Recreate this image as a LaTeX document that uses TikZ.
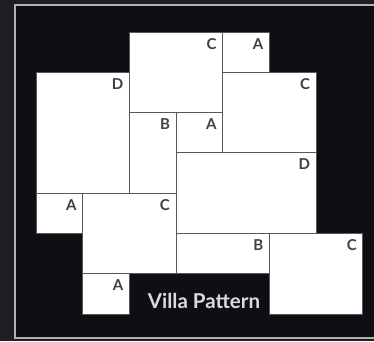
\documentclass[tikz,border=0pt]{standalone}
\usepackage{fontspec}
\setmainfont{Lato}
\definecolor{outerbg}{HTML}{1E1D1F}
\definecolor{innerbg}{HTML}{110E13}
\definecolor{frameline}{HTML}{B4AEBB}
\definecolor{tileline}{HTML}{5A5660}
\definecolor{labelcol}{HTML}{403E46}
\definecolor{captioncol}{HTML}{DCDADF}
\tikzset{
  tilebox/.style={fill=white, draw=tileline, line width=1pt},
  tilelabel/.style={anchor=north east, inner sep=0pt, font=\fontsize{15}{15}\selectfont\bfseries, text=labelcol},
  caption/.style={inner sep=0pt, font=\fontsize{20.5}{20.5}\selectfont\bfseries, text=captioncol}
}
\newcommand\mytile[6]{%
  \draw[tilebox] ({36+46.7*#1},{32+40.3*#2}) rectangle ({36+46.7*#3},{32+40.3*#4});
  \node[tilelabel] (#6) at ({36+46.7*#3-6},{32+40.3*#2+6}) {#5};
}
\begin{document}
\begin{tikzpicture}[x=1pt,y=-1pt]
\useasboundingbox (0,0) rectangle (374,341);
\clip (0,0) rectangle (374,341);
\fill[outerbg] (0,0) rectangle (374,341);
\fill[innerbg] (15,5) rectangle (374,338);
\draw[frameline, line width=2pt] (374,5) -- (15,5) -- (15,338) -- (374,338);
\mytile{2}{0}{4}{2}{C}{ctop}
\mytile{4}{0}{5}{1}{A}{atop}
\mytile{0}{1}{2}{4}{D}{dleft}
\mytile{4}{1}{6}{3}{C}{cright}
\mytile{2}{2}{3}{4}{B}{bmid}
\mytile{3}{2}{4}{3}{A}{amid}
\mytile{3}{3}{6}{5}{D}{dmid}
\mytile{0}{4}{1}{5}{A}{aleft}
\mytile{1}{4}{3}{6}{C}{clow}
\mytile{3}{5}{5}{6}{B}{blow}
\mytile{5}{5}{7}{7}{C}{cbr}
\mytile{1}{6}{2}{7}{A}{abot}
\node[caption, anchor=base] (cap) at (204,308) {Villa Pattern};
\end{tikzpicture}
\end{document}
